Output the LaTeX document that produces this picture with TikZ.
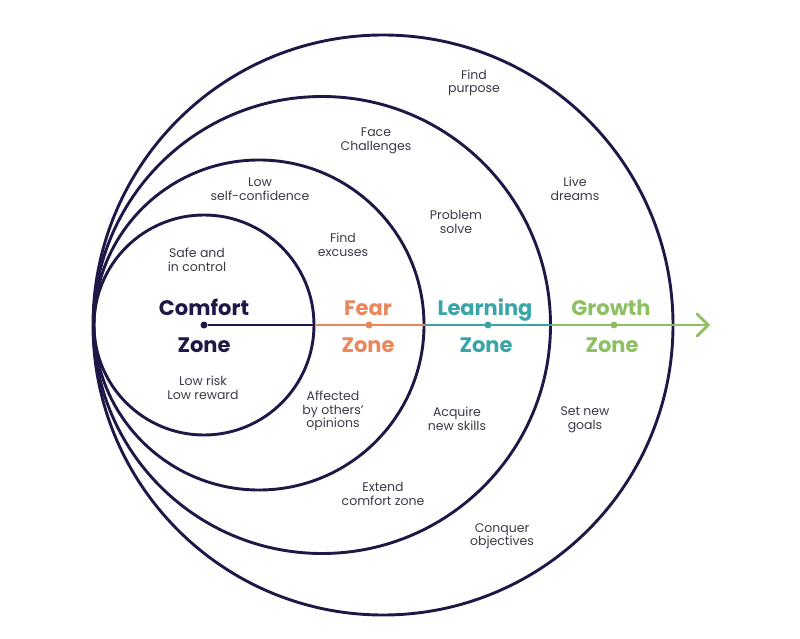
\documentclass[tikz,border=0pt]{standalone}
\usepackage{fontspec}
\setmainfont{Poppins}
\usetikzlibrary{arrows.meta}
\definecolor{navy}{HTML}{1D1846}
\definecolor{fearc}{HTML}{E9885C}
\definecolor{learnc}{HTML}{3AA5A8}
\definecolor{growc}{HTML}{8CC063}
\definecolor{txt}{HTML}{3A3948}
\begin{document}
\begin{tikzpicture}[x=1pt,y=-1pt,
  zone/.style={draw=navy, line width=2.9pt, circle, inner sep=0pt},
  dotn/.style={circle, fill=#1, inner sep=0pt, minimum size=7pt},
  seg/.style={line width=2.8pt, draw=#1},
  small/.style={text=txt, align=center, font=\fontsize{12.5}{13.5}\selectfont},
  big/.style={font=\fontsize{21}{24}\bfseries\selectfont, text=#1, anchor=base}]
\useasboundingbox (0,0) rectangle (800,639);
\node[zone, minimum size=580pt] (growC) at (383,325) {};
\node[zone, minimum size=457pt] (learnC) at (322,325) {};
\node[zone, minimum size=330pt] (fearC) at (259,325) {};
\node[zone, minimum size=220pt] (comfC) at (204,325) {};
\coordinate (tip) at (710,325);
\node[dotn=navy] (cdot) at (204,325) {};
\draw[seg=navy] (cdot) -- (comfC.east);
\draw[seg=fearc] (comfC.east) -- (fearC.east);
\draw[seg=learnc] (fearC.east) -- (learnC.east);
\draw[seg=growc, -{Straight Barb[length=11pt,width=22pt,line cap=round]}] (learnC.east) -- (tip);
\node[dotn=fearc] (fdot) at (369,325) {};
\node[dotn=learnc] (ldot) at (488,325) {};
\node[dotn=growc] (gdot) at (614,325) {};
% zone labels
\node[big=navy] (comf1) at (204,315) {Comfort};
\node[big=navy] (comf2) at (204,352) {Zone};
\node[big=fearc] (fear1) at (368,315) {Fear};
\node[big=fearc] (fear2) at (368,352) {Zone};
\node[big=learnc] (learn1) at (485,315) {Learning};
\node[big=learnc] (learn2) at (486,352) {Zone};
\node[big=growc] (grow1) at (611,315) {Growth};
\node[big=growc] (grow2) at (612,352) {Zone};
% small labels
\node[small] (t1) at (474,83) {Find\\purpose};
\node[small] (t2) at (376,141) {Face\\Challenges};
\node[small] (t3) at (575,189) {Live\\dreams};
\node[small] (t4) at (456,222) {Problem\\solve};
\node[small] (t5) at (260,189) {Low\\self-confidence};
\node[small] (t6) at (343,245) {Find\\excuses};
\node[small] (t7) at (197,260) {Safe and\\in control};
\node[small] (t8) at (203,388) {Low risk\\Low reward};
\node[small] (t9) at (333,411) {Affected\\by others’\\opinions};
\node[small] (t10) at (457,419) {Acquire\\new skills};
\node[small] (t11) at (585,420) {Set new\\goals};
\node[small] (t12) at (383,494) {Extend\\comfort zone};
\node[small] (t13) at (502,536) {Conquer\\objectives};
\end{tikzpicture}
\end{document}
